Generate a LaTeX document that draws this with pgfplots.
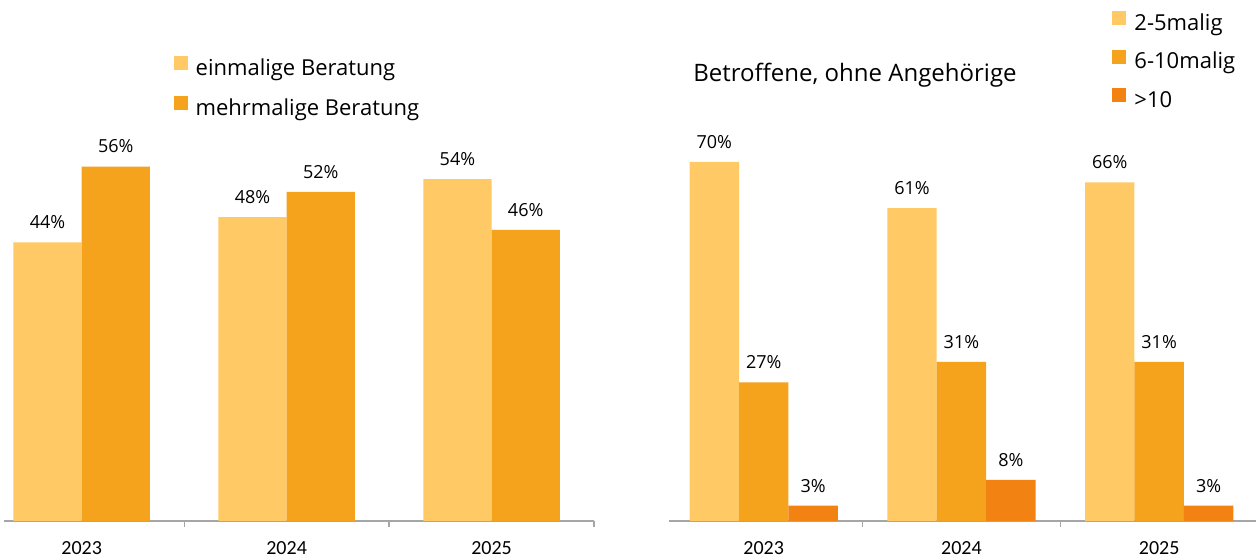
\documentclass[border=0pt]{standalone}
\usepackage{fontspec}
\setmainfont{Open Sans}
\newfontfamily\carlito{Carlito}
\usepackage{pgfplots}
\pgfplotsset{compat=1.18}

\definecolor{cLight}{HTML}{FFC966}
\definecolor{cMid}{HTML}{F5A21D}
\definecolor{cDark}{HTML}{F28212}
\definecolor{axgray}{HTML}{A6A6A6}

\pgfplotsset{
  panel/.style={
    scale only axis,
    ybar=0pt,
    ymin=0,
    axis x line*=bottom,
    axis y line=none,
    x axis line style={axgray, line width=0.6pt},
    xtick={0,1,2},
    xticklabels={2023,2024,2025},
    major tick length=0pt,
    minor xtick={0.5,1.5,2.5},
    minor x tick style={axgray, line width=0.6pt},
    minor tick length=3pt,
    tick align=outside,
    x tick label style={font=\carlito\fontsize{10}{12}\selectfont, inner sep=0pt, yshift=-10pt},
    point meta=y,
    /pgf/number format/assume math mode=true,
    nodes near coords={\pgfmathprintnumber{\pgfplotspointmeta}\%},
    every node near coord/.append style={font=\fontsize{9}{11}\selectfont, anchor=south, inner sep=0pt, yshift=6.5pt},
    legend style={draw=none, fill=none, inner sep=0pt, font=\fontsize{11}{13}\selectfont,
      nodes={inner sep=0pt, text height=8pt, text depth=3pt},
      /tikz/every odd column/.append style={column sep=4pt}},
    legend cell align=left,
    legend image code/.code={\fill[##1] (0pt,0pt) rectangle (7pt,7pt);},
  },
}

\begin{document}
\begin{tikzpicture}
\path[use as bounding box] (0,0) rectangle (628pt,280pt);

% left panel
\begin{axis}[panel,
  at={(2pt,19.5pt)}, anchor=south west,
  width=295pt, height=253.2pt,
  xmin=-0.379, xmax=2.5, ymax=80,
  bar width=0.333,
  legend style={at={(axis cs:0.447,73.5)}, anchor=north west, row sep=7.5pt},
]
\addplot[fill=cLight, draw=none] coordinates {(0,44) (1,48) (2,54)};
\addplot[fill=cMid, draw=none] coordinates {(0,56) (1,52) (2,46)};
\legend{einmalige Beratung, mehrmalige Beratung}
\end{axis}

% right panel
\begin{axis}[panel,
  at={(334.4pt,19.5pt)}, anchor=south west,
  width=293.6pt, height=256.5pt,
  xmin=-0.48, xmax=2.49, ymax=100,
  bar width=0.25,
  title={Betroffene, ohne Angehörige},
  title style={at={(axis description cs:0.0412,0.875)}, anchor=west, inner sep=0pt,
    yshift=-7.5pt, font=\fontsize{12}{14}\selectfont},
  legend style={at={(axis cs:1.762,99.4)}, anchor=north west, row sep=6.7pt},
]
\addplot[fill=cLight, draw=none] coordinates {(0,70) (1,61) (2,66)};
\addplot[fill=cMid, draw=none] coordinates {(0,27) (1,31) (2,31)};
\addplot[fill=cDark, draw=none] coordinates {(0,3) (1,8) (2,3)};
\legend{2-5malig, 6-10malig, >10}
\end{axis}
\end{tikzpicture}
\end{document}
